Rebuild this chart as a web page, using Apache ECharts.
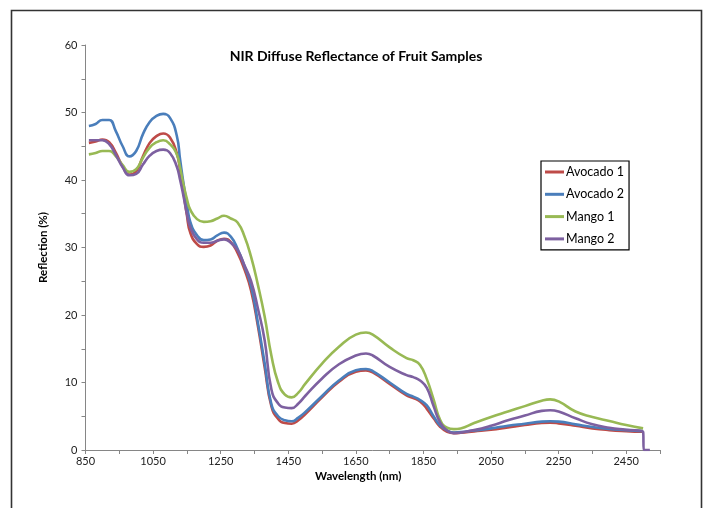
<!DOCTYPE html>
<html>
<head>
<meta charset="utf-8">
<script src="https://cdn.jsdelivr.net/npm/echarts@6/dist/echarts.min.js"></script>
<style>html,body{margin:0;padding:0;background:#fff}#c{width:704px;height:508px}</style>
</head>
<body>
<div id="c"></div>
<script>
const titleText = 'NIR Diffuse Reflectance of Fruit Samples';
const xName = 'Wavelength (nm)';
const yName = 'Reflection (%)';
const seriesNames = ['Avocado 1', 'Avocado 2', 'Mango 1', 'Mango 2'];
const wavelengths = [860, 880, 900, 920, 940, 960, 980, 1000, 1020, 1040, 1060, 1080, 1100, 1120, 1130, 1140, 1150, 1160, 1180, 1200, 1220, 1240, 1260, 1280, 1300, 1320, 1340, 1360, 1380, 1400, 1420, 1440, 1460, 1480, 1500, 1550, 1600, 1650, 1680, 1700, 1750, 1800, 1820, 1840, 1860, 1880, 1900, 1920, 1940, 1960, 2000, 2050, 2100, 2150, 2200, 2225, 2250, 2300, 2350, 2400, 2450, 2500, 2502, 2520];
const avocado1 = [45.5, 45.7, 46.0, 45.6, 44.0, 42.0, 40.8, 41.3, 43.5, 45.5, 46.5, 46.9, 46.3, 44.0, 41.5, 38.2, 34.8, 32.2, 30.5, 30.1, 30.3, 31.0, 31.3, 30.8, 29.2, 26.8, 23.6, 18.4, 12.3, 6.5, 4.6, 4.0, 3.9, 4.4, 5.3, 7.8, 10.1, 11.6, 11.8, 11.5, 9.8, 8.1, 7.7, 7.2, 6.1, 4.7, 3.4, 2.7, 2.5, 2.55, 2.75, 3.0, 3.35, 3.7, 4.0, 4.05, 3.95, 3.6, 3.2, 2.95, 2.8, 2.7, null, null];
const avocado2 = [48.0, 48.3, 48.9, 48.9, 47.2, 45.0, 43.5, 44.3, 46.8, 48.6, 49.5, 49.8, 49.2, 46.6, 43.0, 39.5, 36.5, 33.8, 31.8, 31.1, 31.2, 31.8, 32.2, 31.6, 29.8, 27.3, 24.3, 18.9, 12.9, 6.8, 5.0, 4.4, 4.25, 4.8, 5.6, 8.0, 10.3, 11.8, 12.0, 11.7, 10.0, 8.3, 7.9, 7.4, 6.6, 5.0, 3.6, 2.9, 2.6, 2.65, 2.9, 3.2, 3.6, 3.9, 4.2, 4.25, 4.2, 3.8, 3.4, 3.1, 2.95, 2.8, null, null];
const mango1 = [43.8, 44.0, 44.3, 44.3, 43.5, 42.2, 41.2, 41.6, 43.3, 44.8, 45.6, 45.9, 45.3, 43.8, 41.8, 39.3, 37.2, 35.6, 34.2, 33.8, 33.9, 34.3, 34.7, 34.3, 33.7, 31.7, 28.6, 24.5, 19.8, 14.0, 10.0, 8.2, 7.8, 8.5, 9.8, 12.8, 15.3, 17.1, 17.4, 17.1, 15.2, 13.6, 13.3, 12.6, 10.5, 7.5, 4.4, 3.3, 3.1, 3.2, 4.0, 4.9, 5.7, 6.5, 7.3, 7.5, 7.2, 5.7, 4.9, 4.3, 3.7, 3.2, null, null];
const mango2 = [45.9, 45.9, 45.9, 45.3, 43.7, 41.9, 40.7, 40.9, 42.3, 43.6, 44.3, 44.5, 44.0, 42.0, 40.0, 37.6, 35.0, 33.0, 31.2, 30.7, 30.7, 31.0, 31.2, 30.7, 29.6, 27.4, 25.0, 21.0, 16.3, 9.0, 6.9, 6.3, 6.2, 6.9, 8.0, 10.6, 12.7, 14.0, 14.3, 14.0, 12.3, 11.1, 10.8, 10.3, 9.2, 6.5, 4.0, 2.9, 2.5, 2.6, 2.95, 3.6, 4.4, 5.1, 5.8, 5.9, 5.7, 4.7, 3.8, 3.3, 3.0, 2.7, 0, 0];
const xTicks = {min: 850, max: 2550, interval: 200};
const yTicks = {min: 0, max: 60, interval: 10};

const colors = ['#BE4B48', '#4A7EBB', '#98B954', '#7D60A0'];
const valueSets = [avocado1, avocado2, mango1, mango2];
const FONT = 'Lato';
const axisGray = '#868686';

const chart = echarts.init(document.getElementById('c'));
chart.setOption({
  animation: false,
  backgroundColor: '#fff',
  title: {
    text: titleText, left: 351, top: 44, textAlign: 'center',
    textStyle: {fontFamily: FONT, fontSize: 14, fontWeight: 'bold', color: '#000'}
  },
  legend: {
    orient: 'vertical', left: 541, top: 161,
    data: seriesNames,
    icon: 'rect', itemWidth: 19, itemHeight: 3, itemGap: 6.3,
    borderColor: '#000', borderWidth: 1.2, padding: [3, 5, 3, 4],
    textStyle: {fontFamily: FONT, fontSize: 12.5, color: '#000', lineHeight: 16, padding: [0, 0, 0, -3]}
  },
  grid: {left: 85.5, right: 44, top: 45, bottom: 58, containLabel: false},
  xAxis: {
    type: 'value', min: xTicks.min, max: xTicks.max, interval: xTicks.interval,
    axisLine: {show: true, lineStyle: {color: axisGray, width: 1}},
    axisTick: {show: true, length: 4, lineStyle: {color: axisGray}},
    minorTick: {show: true, splitNumber: 2, length: 4, lineStyle: {color: axisGray}},
    splitLine: {show: false},
    axisLabel: {showMaxLabel: false, fontFamily: FONT, fontSize: 11, color: '#222', margin: 6,
      formatter: v => String(v)}
  },
  yAxis: {
    type: 'value', min: yTicks.min, max: yTicks.max, interval: yTicks.interval,
    name: yName, nameLocation: 'middle', nameGap: 36, nameRotate: 90,
    nameTextStyle: {fontFamily: FONT, fontSize: 11.5, fontWeight: 'bold', color: '#000'},
    axisLine: {show: true, lineStyle: {color: axisGray, width: 1}},
    axisTick: {show: true, length: 4, lineStyle: {color: axisGray}},
    minorTick: {show: true, splitNumber: 2, length: 4, lineStyle: {color: axisGray}},
    splitLine: {show: false},
    axisLabel: {fontFamily: FONT, fontSize: 11, color: '#222', margin: 8, formatter: v => String(v)}
  },
  graphic: [
    {type: 'rect', shape: {x: 11.5, y: 10.5, width: 690, height: 530},
     style: {fill: 'none', stroke: '#333', lineWidth: 1.6}, silent: true},
    {type: 'text', left: 315, top: 470,
     style: {text: xName, fontFamily: FONT, fontSize: 11.5, fontWeight: 'bold', fill: '#000', textAlign: 'center'}}
  ],
  series: seriesNames.map((name, k) => ({
    name: name, type: 'line', showSymbol: false, smooth: 0.5,
    connectNulls: false,
    color: colors[k],
    lineStyle: {width: 2.6, color: colors[k]},
    data: wavelengths.map((w, i) => [w, valueSets[k][i]])
  }))
});
</script>
</body>
</html>
